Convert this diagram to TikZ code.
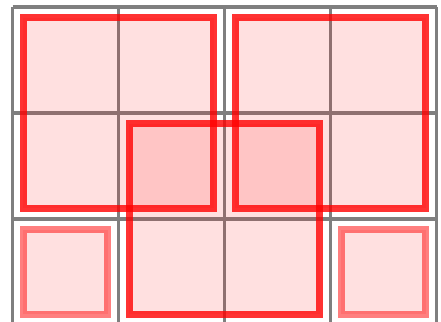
\documentclass[tikz,border=0pt]{standalone}
\usepackage{xcolor}
\usepackage{tikz}
\usetikzlibrary{positioning}
\definecolor{squarecolor}{RGB}{255, 0, 0}

\begin{document}
\begin{tikzpicture}[
    gridline/.style={draw=black, draw opacity=0.5, line width=1pt},
    square/.style={rectangle, draw=squarecolor, fill=squarecolor, fill opacity=0.12, inner sep=0pt, outer sep=0pt},
    bigsquare/.style={square, minimum size=1.8cm, line width=1.9pt, draw opacity=0.8},
    smallsquare/.style={square, minimum size=0.8cm, line width=1.9pt, draw opacity=0.5}
]

% Frame
\clip (-0.118,0.03) rectangle (4.042,3.066);

% Grid
\draw[gridline] (0,0) grid (4,3);

% Big squares
\node[bigsquare] (topleft) at (1,2) {};
\node[bigsquare] (topright) at (3,2) {};
\node[bigsquare] (middle) at (2,1) {};

% Small squares
\node[smallsquare] (bottomleft) at (0.5,0.5) {};
\node[smallsquare] (bottomright) at (3.5,0.5) {};

\end{tikzpicture}
\end{document}
